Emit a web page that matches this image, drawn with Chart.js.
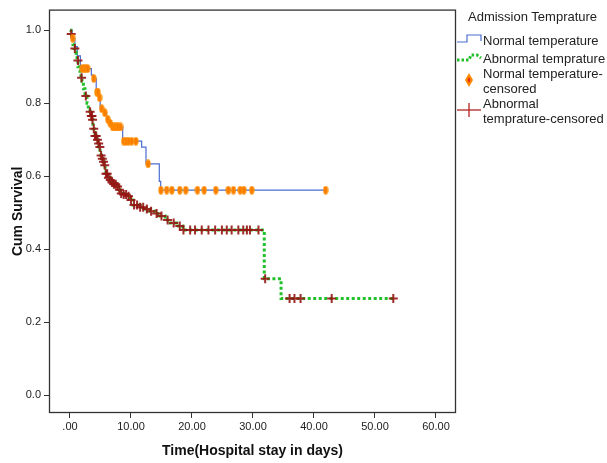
<!DOCTYPE html>
<html>
<head>
<meta charset="utf-8">
<script src="https://cdn.jsdelivr.net/npm/chart.js@4.4.1/dist/chart.umd.min.js"></script>
<style>
  html, body { margin: 0; padding: 0; background: #fff; }
  #wrap { position: relative; width: 607px; height: 463px; }
  canvas { position: absolute; left: 0; top: 0; }
  .lg { position: absolute; font-family: "Liberation Sans", Arial, sans-serif; font-size: 13px; color: #222; line-height: 14.5px; white-space: nowrap; }
  svg { position: absolute; overflow: visible; }
</style>
</head>
<body>
<div id="wrap">
  <canvas id="c" width="607" height="463"></canvas>
  <div class="lg" style="left:468px; top:10px;">Admission Temprature</div>
  <svg style="left:457px; top:33px;" width="26" height="12"><polyline points="0,9 10,9 10,2 24,2 24,8" fill="none" stroke="#4a6cd0" stroke-width="1.2"/></svg>
  <div class="lg" style="left:483px; top:34px;">Normal temperature</div>
  <svg style="left:457px; top:52px;" width="26" height="12"><polyline points="0,8 12,8 14,3 20,3 24,6" fill="none" stroke="#22c02a" stroke-width="3" stroke-dasharray="2.5,2"/></svg>
  <div class="lg" style="left:483px; top:52px;">Abnormal temprature</div>
  <svg style="left:465px; top:73px;" width="8" height="15"><polygon points="4,0 8,7 4,14 0,7" fill="#ff8a00"/><polygon points="4,4 5.5,7 4,10 2.5,7" fill="#e0301a"/></svg>
  <div class="lg" style="left:483px; top:67px;">Normal temperature-<br>censored</div>
  <svg style="left:457px; top:103px;" width="26" height="15"><line x1="0" y1="7" x2="24" y2="7" stroke="#b22222" stroke-width="1.3"/><line x1="12" y1="0" x2="12" y2="14" stroke="#b22222" stroke-width="1.3"/></svg>
  <div class="lg" style="left:483px; top:97px;">Abnormal<br>temprature-censored</div>
</div>
<script>
// ---- data ----
const normalTimes = [0, 0.35, 0.8, 1.2, 1.7, 3.5, 3.8, 4.3, 4.7, 4.95, 5.5, 6.0, 6.4, 6.9, 8.64, 11.75, 12.46, 14.64, 14.87, 41.9];
const normalSurv  = [1.0, 0.978, 0.955, 0.93, 0.895, 0.877, 0.868, 0.83, 0.815, 0.785, 0.774, 0.756, 0.745, 0.735, 0.696, 0.68, 0.634, 0.586, 0.562, 0.562];
const normalCensored = [0.45, 2.0, 2.3, 2.6, 2.9, 3.9, 4.4, 4.6, 4.85, 5.2, 5.7, 6.2, 6.6, 7.0, 7.3, 7.6, 7.9, 8.3, 8.8, 9.2, 9.6, 10.1, 10.8, 12.8,
  14.9, 15.85, 16.7, 18.0, 18.97, 20.9, 22.0, 23.9, 25.95, 26.8, 27.9, 28.5, 29.8, 41.9];

const abnormalTimes = [0, 0.16, 0.3, 0.49, 0.65, 0.82, 1.0, 1.15, 1.31, 1.5, 1.64, 1.8, 1.97, 2.2, 2.46, 2.79, 3.0, 3.28, 3.45, 3.61, 3.77, 3.95,
  4.1, 4.35, 4.59, 4.75, 4.92, 5.1, 5.25, 5.4, 5.57, 5.75, 5.9, 6.23, 6.6, 6.89, 7.2, 7.54, 7.9, 8.2, 8.8, 9.34, 9.8, 10.33, 11.48, 12.3,
  13.1, 14.0, 14.75, 15.6, 16.4, 17.5, 18.5, 31.85, 34.6, 53.0];
const abnormalSurv = [1.0, 0.99, 0.975, 0.96, 0.95, 0.94, 0.93, 0.917, 0.9, 0.89, 0.88, 0.87, 0.86, 0.84, 0.82, 0.8, 0.79, 0.777, 0.765, 0.755, 0.73, 0.72,
  0.71, 0.7, 0.69, 0.68, 0.667, 0.657, 0.648, 0.64, 0.63, 0.618, 0.607, 0.596, 0.59, 0.583, 0.578, 0.572, 0.563, 0.553, 0.55, 0.545, 0.535, 0.521, 0.515, 0.51,
  0.504, 0.498, 0.491, 0.48, 0.472, 0.464, 0.453, 0.319, 0.265, 0.265];
const abnormalCensored = [0.2, 0.8, 1.3, 1.9, 2.6, 3.3, 3.5, 3.6, 3.7, 3.9, 4.1, 4.3, 4.5, 4.7, 4.9, 5.1, 5.3, 5.5, 5.7, 5.9, 6.1, 6.3, 6.6, 6.9,
  7.2, 7.5, 7.8, 8.1, 8.4, 8.8, 9.2, 9.6, 10.0, 10.5, 11.0, 11.5, 12.0, 12.6, 13.3, 14.2, 15.0, 16.0, 17.0, 18.0, 18.6, 19.7, 20.5, 21.6,
  22.7, 23.8, 24.9, 25.7, 26.5, 27.6, 28.4, 29.0, 29.5, 30.9, 32.0, 36.0, 36.8, 37.8, 42.9, 53.0];

const xTickValues = [0, 10, 20, 30, 40, 50, 60];
const xTickLabels = ['.00', '10.00', '20.00', '30.00', '40.00', '50.00', '60.00'];
const yTickValues = [0, 0.2, 0.4, 0.6, 0.8, 1.0];
const yTickLabels = ['0.0', '0.2', '0.4', '0.6', '0.8', '1.0'];

// ---- helpers ----
function survAt(times, surv, t) {
  let v = surv[0];
  for (let i = 0; i < times.length; i++) { if (times[i] <= t + 1e-9) v = surv[i]; }
  return v;
}
const pts = (times, surv) => times.map((t, i) => ({ x: t, y: surv[i] }));
const censPts = (cens, times, surv) => cens.map(t => ({ x: t, y: survAt(times, surv, t) }));

// orange censor marker
const orangeMark = document.createElement('canvas');
orangeMark.width = 6; orangeMark.height = 9;
(function () {
  const g = orangeMark.getContext('2d');
  g.fillStyle = '#ff8c00';
  g.beginPath(); g.ellipse(3, 4.5, 2.6, 4.2, 0, 0, Math.PI * 2); g.fill();
  g.fillStyle = '#f06a00';
  g.fillRect(2.5, 1.5, 1, 6);
})();

const frame = {
  id: 'frame',
  afterDatasetsDraw(chart) {
    const { ctx, chartArea: a } = chart;
    ctx.save();
    ctx.strokeStyle = '#333';
    ctx.lineWidth = 1.3;
    ctx.strokeRect(a.left + 0.5, a.top + 0.5, a.right - a.left - 1, a.bottom - a.top - 1);
    ctx.restore();
  }
};

const tickFont = { family: '"Liberation Sans", Arial, sans-serif', size: 11 };
const titleFont = { family: '"Liberation Sans", Arial, sans-serif', size: 14, weight: 'bold' };

new Chart(document.getElementById('c'), {
  type: 'scatter',
  data: {
    datasets: [
      { label: 'Normal temperature-censored', data: censPts(normalCensored, normalTimes, normalSurv), showLine: false,
        pointStyle: orangeMark, pointRadius: 4, order: 0 },
      { label: 'Abnormal temprature-censored', data: censPts(abnormalCensored, abnormalTimes, abnormalSurv), showLine: false,
        pointStyle: 'cross', pointRadius: 4.5, borderColor: 'rgba(150,20,20,0.9)', borderWidth: 2, order: 0 },
      { label: 'Normal temperature', data: pts(normalTimes, normalSurv), showLine: true, stepped: 'before',
        borderColor: '#4a6cd0', borderWidth: 1.2, pointRadius: 0, fill: false, order: 2 },
      { label: 'Abnormal temprature', data: pts(abnormalTimes, abnormalSurv), showLine: true, stepped: 'before',
        borderColor: '#22c02a', borderWidth: 3, borderDash: [3, 2.5], pointRadius: 0, fill: false, order: 1 }
    ]
  },
  options: {
    responsive: false,
    devicePixelRatio: 1,
    animation: false,
    layout: { padding: { top: 3, right: 151, left: 0, bottom: 0 } },
    plugins: { legend: { display: false }, tooltip: { enabled: false } },
    scales: {
      x: {
        type: 'linear', min: -3.44, max: 63.28,
        afterBuildTicks: s => { s.ticks = xTickValues.map(v => ({ value: v })); },
        afterFit: s => { s.height = 50; },
        ticks: { callback: (v) => xTickLabels[xTickValues.indexOf(v)], font: tickFont, color: '#222', padding: 2, maxRotation: 0, autoSkip: false },
        grid: { drawOnChartArea: false, drawTicks: true, tickLength: 5, color: '#333' },
        border: { display: false },
        title: { display: true, text: 'Time(Hospital stay in days)', font: titleFont, color: '#111', padding: { top: 0, bottom: 3.6 } }
      },
      y: {
        type: 'linear', min: -0.0486, max: 1.0566,
        afterBuildTicks: s => { s.ticks = yTickValues.map(v => ({ value: v })); },
        afterFit: s => { s.width = 49; },
        ticks: { callback: (v) => yTickLabels[yTickValues.findIndex(t => Math.abs(t - v) < 1e-6)], font: tickFont, color: '#222', padding: 3, autoSkip: false },
        grid: { drawOnChartArea: false, drawTicks: true, tickLength: 5, color: '#333' },
        border: { display: false },
        title: { display: true, text: 'Cum Survival', font: titleFont, color: '#111', padding: { top: 10, bottom: 0 } }
      }
    }
  },
  plugins: [frame]
});
</script>
</body>
</html>
